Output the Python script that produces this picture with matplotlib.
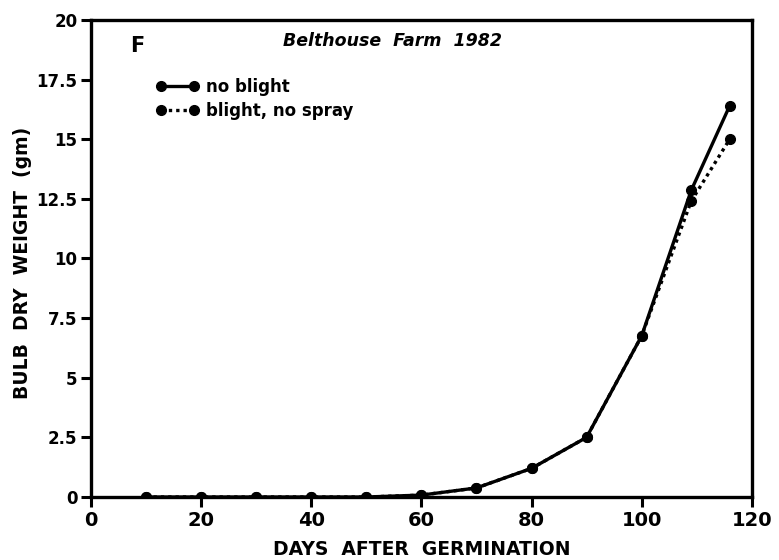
import matplotlib.pyplot as plt
from matplotlib.ticker import FixedLocator, FixedFormatter

# Data
days = [10, 20, 30, 40, 50, 60, 70, 80, 90, 100, 109, 116]
no_blight = [0.0, 0.0, 0.0, 0.0, 0.0, 0.08, 0.38, 1.2, 2.5, 6.75, 12.85, 16.4]
blight_no_spray = [0.0, 0.0, 0.0, 0.0, 0.0, 0.08, 0.38, 1.2, 2.5, 6.75, 12.4, 15.0]

x_ticks = [0, 20, 40, 60, 80, 100, 120]
y_ticks = [0, 2.5, 5, 7.5, 10, 12.5, 15, 17.5, 20]
y_tick_labels = ['0', '2.5', '5', '7.5', '10', '12.5', '15', '17.5', '20']

plt.rcParams['font.family'] = ['DejaVu Sans']
plt.rcParams['font.weight'] = 'bold'

fig = plt.figure(figsize=(7.79, 5.60), dpi=100)
ax = fig.add_axes([0.117, 0.1125, 0.848, 0.852])

ax.plot(days, no_blight, color='black', linestyle='-', linewidth=2.4,
        marker='o', markersize=7, label='no blight')
ax.plot(days, blight_no_spray, color='black', linestyle=(0, (1, 1.2)), linewidth=2.4,
        marker='o', markersize=7, label='blight, no spray')

ax.set_xlim(0, 120)
ax.set_ylim(0, 20)
ax.xaxis.set_major_locator(FixedLocator(x_ticks))
ax.yaxis.set_major_locator(FixedLocator(y_ticks))
ax.yaxis.set_major_formatter(FixedFormatter(y_tick_labels))

for s in ax.spines.values():
    s.set_linewidth(2.4)
ax.tick_params(direction='out', length=7, width=2.2, pad=3)
ax.tick_params(axis='x', labelsize=14)
ax.tick_params(axis='y', labelsize=12)
for lab in ax.get_xticklabels() + ax.get_yticklabels():
    lab.set_fontweight('bold')

ax.set_xlabel('DAYS  AFTER  GERMINATION', fontsize=13.5, fontweight='bold')
ax.xaxis.set_label_coords(0.5, -0.09)
ax.set_ylabel('BULB  DRY  WEIGHT  (gm)', fontsize=13.5, fontweight='bold')
ax.yaxis.set_label_coords(-0.09, 0.49)

ax.text(0.29, 0.955, 'Belthouse  Farm  1982', transform=ax.transAxes,
        fontsize=12.5, fontweight='bold', style='italic', ha='left', va='center')
ax.text(0.07, 0.945, 'F', transform=ax.transAxes, fontsize=15,
        fontweight='bold', ha='center', va='center')

leg = ax.legend(loc='upper left', bbox_to_anchor=(0.075, 0.91), frameon=False,
                numpoints=2, handlelength=2.6, handletextpad=0.4,
                labelspacing=0.35, prop={'size': 12, 'weight': 'bold'})

fig.savefig('out.png', dpi=100)
